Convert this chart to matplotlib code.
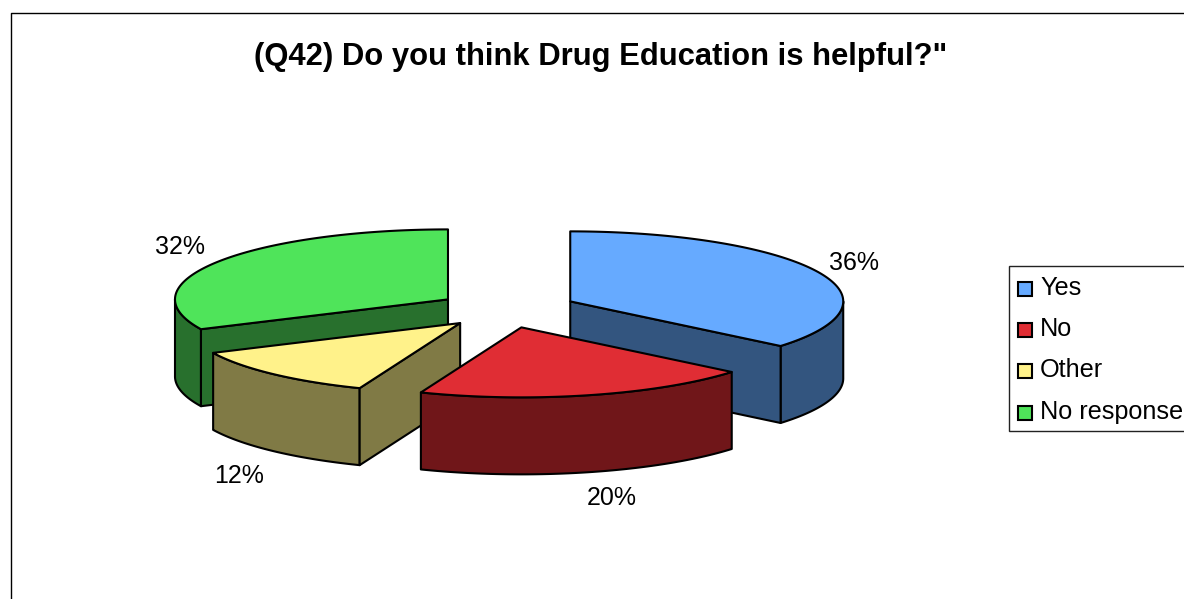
import numpy as np
import matplotlib
matplotlib.use('Agg')
import matplotlib.pyplot as plt
from matplotlib.patches import Polygon, Rectangle

plt.rcParams['font.family'] = ['Liberation Sans', 'DejaVu Sans']

# Data
categories = ['Yes', 'No', 'Other', 'No response']
shares = [36, 20, 12, 32]
top_colors = ['#66AAFF', '#E02D34', '#FFF28A', '#4FE45A']
side_colors = ['#33557F', '#701619', '#807A45', '#28702D']
title = '(Q42) Do you think Drug Education is helpful?"'

# Pie geometry, in pixels of the picture
cx, cy = 507, 309
rx, ry = 273, 70
depth = 77
explode = 0.256
# small corrections per slice, the original does not explode quite evenly
nudge = [(0, 0), (-3, 1), (1, 1), (0, 0)]


def rim(x0, y0, t1, t2, n=120):
    t = np.radians(np.linspace(t1, t2, n))
    return np.column_stack([x0 + rx * np.sin(t), y0 - ry * np.cos(t)])


def draw_face(ax, pts, color, z):
    ax.add_patch(Polygon(pts, closed=True, facecolor=color, edgecolor='black',
                         linewidth=1.5, joinstyle='round', zorder=z))


def draw_slice(ax, start, end, top, side, shift, z):
    mid = np.radians((start + end) / 2)
    x0 = cx + explode * rx * np.sin(mid) + shift[0]
    y0 = cy - explode * ry * np.cos(mid) + shift[1]
    down = np.array([0, depth])
    apex = np.array([[x0, y0]])

    # outer wall, only the part that faces the viewer
    a, b = max(start, 90), min(end, 270)
    if a < b:
        arc = rim(x0, y0, a, b)
        draw_face(ax, np.vstack([arc, arc[::-1] + down]), side, z)
    # cut faces that can be seen
    if start > 180:
        edge = rim(x0, y0, start, start, 1)
        draw_face(ax, np.vstack([apex, edge, edge + down, apex + down]), side, z)
    if end < 180:
        edge = rim(x0, y0, end, end, 1)
        draw_face(ax, np.vstack([apex, edge, edge + down, apex + down]), side, z)
    draw_face(ax, np.vstack([apex, rim(x0, y0, start, end)]), top, z + 0.5)


fig = plt.figure(figsize=(11.84, 5.99), dpi=100, facecolor='white')
ax = fig.add_axes([0, 0, 1, 1])
ax.set_xlim(0, 1184)
ax.set_ylim(599, 0)
ax.axis('off')

# outer chart frame runs off the picture on the right and at the bottom
ax.plot([10.5, 10.5, 1184], [599, 12.5, 12.5], color='black', linewidth=1.0)

ax.text(601, 57, title, fontsize=22.3, fontweight='bold', ha='center', va='center')

edges = np.concatenate([[0], np.cumsum(shares)]) / np.sum(shares) * 360
draw_order = [3, 0, 2, 1]
for i in draw_order:
    draw_slice(ax, edges[i], edges[i + 1], top_colors[i], side_colors[i], nudge[i],
               2 + draw_order.index(i))

# percent labels
label_pos = [(854, 263), (612, 498), (239, 476), (180, 247)]
for share, (x, y) in zip(shares, label_pos):
    ax.text(x, y, f'{share}%', fontsize=18, ha='center', va='center', zorder=10)

# legend box
ax.add_patch(Rectangle((1008.5, 265.5), 190, 165, facecolor='white', edgecolor='#222222',
                       linewidth=1.0, zorder=8))
legend_y = [289, 330, 371, 413]
for name, color, y in zip(categories, top_colors, legend_y):
    ax.add_patch(Rectangle((1017.5, y - 7), 14, 14, facecolor=color, edgecolor='black',
                           linewidth=1.5, zorder=9))
    ax.text(1040, y - 1, name, fontsize=18.2, ha='left', va='center', zorder=9)

fig.savefig('out.png', dpi=100)
